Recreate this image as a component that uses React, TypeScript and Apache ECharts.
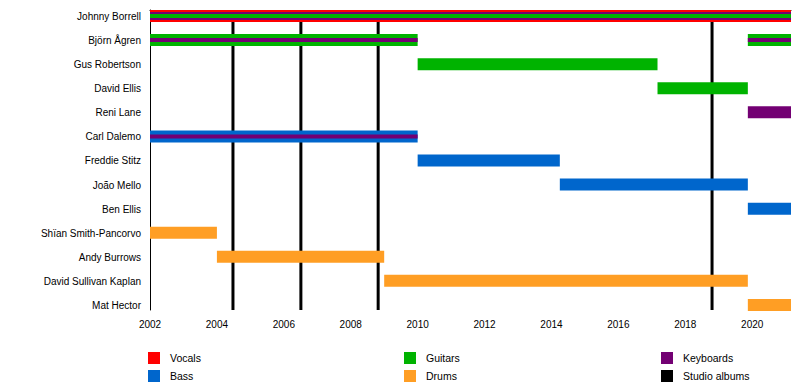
import React, { useEffect, useRef } from "react";
import * as echarts from "echarts";

const END = 2021.16;
const YMAX = 12.46;

const members = [
  "Johnny Borrell",
  "Björn Ågren",
  "Gus Robertson",
  "David Ellis",
  "Reni Lane",
  "Carl Dalemo",
  "Freddie Stitz",
  "João Mello",
  "Ben Ellis",
  "Shïan Smith-Pancorvo",
  "Andy Burrows",
  "David Sullivan Kaplan",
  "Mat Hector",
];

// [memberIndex, from, till, layer]  (layer 0 = main role, 1/2 = secondary roles)
const vocals = [[0, 2002, END, 0]];
const guitars = [
  [0, 2002, END, 2],
  [1, 2002, 2010, 0],
  [1, 2019.87, END, 0],
  [2, 2010, 2017.17, 0],
  [3, 2017.17, 2019.87, 0],
];
const keyboards = [
  [0, 2002, END, 1],
  [1, 2002, 2010, 2],
  [1, 2019.87, END, 2],
  [4, 2019.87, END, 0],
  [5, 2002, 2010, 2],
];
const bass = [
  [5, 2002, 2010, 0],
  [6, 2010, 2014.25, 0],
  [7, 2014.25, 2019.87, 0],
  [8, 2019.87, END, 0],
];
const drums = [
  [9, 2002, 2004, 0],
  [10, 2004, 2009, 0],
  [11, 2009, 2019.87, 0],
  [12, 2019.87, END, 0],
];
const studioAlbums = [2004.48, 2006.51, 2008.82, 2018.8];

const COLORS: Record<string, string> = {
  Vocals: "#FF0000",
  Guitars: "#00B300",
  Keyboards: "#730073",
  Bass: "#0066CC",
  Drums: "#FF9E24",
  "Studio albums": "#000000",
};

const LAYER_H = [12, 8, 4];
const FONT = "'Liberation Sans', Arial, sans-serif";

function barSeries(name: string, data: number[][]) {
  const color = COLORS[name];
  return {
    name,
    type: "custom",
    z: 2,
    silent: true,
    itemStyle: { color },
    encode: { x: [1, 2], y: 0 },
    data,
    renderItem: (params: any, api: any) => {
      const row = api.value(0);
      const s = api.value(1);
      const e = api.value(2);
      const layer = api.value(3);
      const p1 = api.coord([s, row + 0.25]);
      const p2 = api.coord([e, row + 0.25]);
      const h = LAYER_H[layer];
      return {
        type: "rect",
        z2: layer,
        shape: { x: p1[0], y: p1[1] - h / 2, width: p2[0] - p1[0], height: h },
        style: { fill: color },
      };
    },
  };
}

export default function App() {
  const ref = useRef<HTMLDivElement>(null);
  useEffect(() => {
    if (!ref.current) return;
    const chart = echarts.init(ref.current, null, { renderer: "svg" });
    const legendBase = {
      orient: "vertical",
      top: 352,
      padding: 0,
      itemWidth: 12,
      itemHeight: 12,
      itemGap: 6,
      icon: "rect",
      selectedMode: false,
      textStyle: { fontSize: 10.5, color: "#000", fontFamily: FONT, padding: [0, 0, 0, 5] },
    };
    chart.setOption({
      animation: false,
      textStyle: { fontFamily: FONT },
      grid: { left: 150, right: 9, top: 10, bottom: 80 },
      xAxis: {
        type: "value",
        min: 2002,
        max: END,
        interval: 1,
        axisLine: { show: true, lineStyle: { color: "#000", width: 1 } },
        axisTick: { show: true, length: 3, lineStyle: { color: "#000" } },
        splitLine: { show: false },
        axisLabel: {
          color: "#000",
          fontSize: 10,
          fontFamily: FONT,
          margin: 9,
          showMaxLabel: false,
          formatter: (v: number) =>
            Math.abs(v - Math.round(v)) < 1e-6 && Math.round(v) % 2 === 0 ? String(Math.round(v)) : "",
        },
      },
      yAxis: {
        type: "value",
        inverse: true,
        min: 0,
        max: YMAX,
        interval: 1,
        axisLine: { show: true, lineStyle: { color: "#000", width: 1 } },
        axisTick: { show: false },
        splitLine: { show: false },
        axisLabel: {
          color: "#000",
          fontSize: 10,
          fontFamily: FONT,
          margin: 9,
          verticalAlign: "top",
          lineHeight: 13,
          showMaxLabel: false,
          formatter: (v: number) => {
            const i = Math.round(v);
            return Math.abs(v - i) < 1e-6 && members[i] ? members[i] : "";
          },
        },
      },
      legend: [
        { ...legendBase, left: 148, data: ["Vocals", "Bass"] },
        { ...legendBase, left: 404, data: ["Guitars", "Drums"] },
        { ...legendBase, left: 661, data: ["Keyboards", "Studio albums"] },
      ],
      series: [
        {
          name: "Studio albums",
          type: "custom",
          z: 1,
          silent: true,
          itemStyle: { color: "#000" },
          encode: { x: 0 },
          data: studioAlbums.map((y) => [y]),
          renderItem: (params: any, api: any) => {
            const x = api.value(0);
            const top = api.coord([x, 0]);
            const bot = api.coord([x, YMAX]);
            return {
              type: "line",
              shape: { x1: top[0], y1: top[1], x2: bot[0], y2: bot[1] },
              style: { stroke: "#000", lineWidth: 3 },
            };
          },
        },
        barSeries("Vocals", vocals),
        barSeries("Guitars", guitars),
        barSeries("Keyboards", keyboards),
        barSeries("Bass", bass),
        barSeries("Drums", drums),
      ],
    });
    return () => chart.dispose();
  }, []);
  return (
    <div
      ref={ref}
      style={{ position: "fixed", left: 0, top: 0, width: 800, height: 390, background: "#fff" }}
    />
  );
}
